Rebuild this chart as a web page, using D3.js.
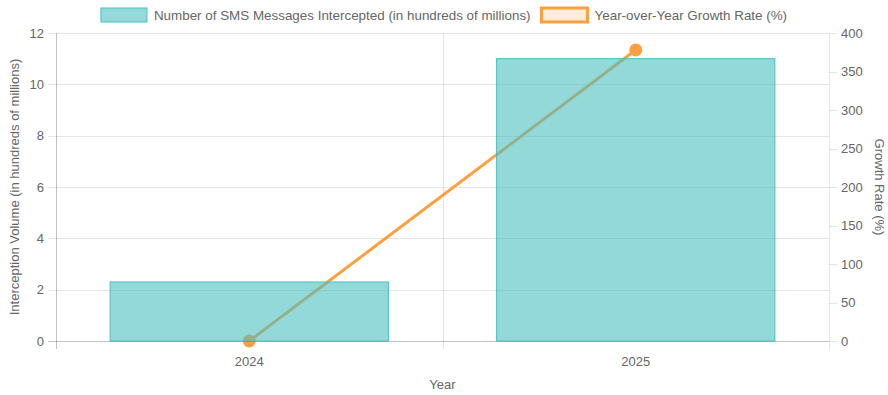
<!DOCTYPE html>
<html lang="en">
<head>
  <meta charset="UTF-8" />
  <title>SMS Interception</title>
  <script src="https://d3js.org/d3.v7.min.js"></script>
  <style>
    body {
      margin: 0;
      background: #fff;
      font-family: 'Liberation Sans', Arial, sans-serif;
    }
    svg text {
      fill: #666;
      font-size: 13px;
    }
    svg .legend text {
      font-size: 13.4px;
    }
  </style>
</head>
<body>
  <svg id="chart" width="888" height="395"></svg>
  <script>
    // Chart data
    const years = ["2024", "2025"];
    const smsVolume = [2.3, 11];      // hundreds of millions
    const growthRate = [0, 378];      // percent
    const leftTicks = [0, 2, 4, 6, 8, 10, 12];
    const rightTicks = [0, 50, 100, 150, 200, 250, 300, 350, 400];

    const seriesLabels = [
      "Number of SMS Messages Intercepted (in hundreds of millions)",
      "Year-over-Year Growth Rate (%)"
    ];

    const barFill = "rgba(75, 192, 192, 0.6)";
    const barStroke = "rgb(75, 192, 192)";
    const lineColor = "rgb(255, 159, 64)";
    const gridColor = "rgba(0, 0, 0, 0.1)";

    const margin = { top: 33, right: 59, bottom: 54, left: 56 };
    const width = 888, height = 395;
    const svg = d3.select("#chart");

    const x = d3.scaleBand()
      .domain(years)
      .range([margin.left, width - margin.right]);

    const yLeft = d3.scaleLinear()
      .domain([0, 12])
      .range([height - margin.bottom, margin.top]);

    const yRight = d3.scaleLinear()
      .domain([0, 400])
      .range([height - margin.bottom, margin.top]);

    const bottom = height - margin.bottom;
    const right = width - margin.right;

    // Horizontal grid lines (left axis)
    svg.append("g")
      .selectAll("line")
      .data(leftTicks)
      .enter()
      .append("line")
      .attr("x1", margin.left - 8)
      .attr("x2", right)
      .attr("y1", d => Math.round(yLeft(d)) + 0.5)
      .attr("y2", d => Math.round(yLeft(d)) + 0.5)
      .attr("stroke", gridColor);

    // Vertical grid lines at band boundaries
    const bounds = [margin.left, x("2025"), right];
    svg.append("g")
      .selectAll("line")
      .data(bounds)
      .enter()
      .append("line")
      .attr("x1", d => Math.round(d) + 0.5)
      .attr("x2", d => Math.round(d) + 0.5)
      .attr("y1", margin.top)
      .attr("y2", bottom + 8)
      .attr("stroke", gridColor);

    // Right axis tick marks
    svg.append("g")
      .selectAll("line")
      .data(rightTicks)
      .enter()
      .append("line")
      .attr("x1", right)
      .attr("x2", right + 8)
      .attr("y1", d => Math.round(yRight(d)) + 0.5)
      .attr("y2", d => Math.round(yRight(d)) + 0.5)
      .attr("stroke", gridColor);

    // Tick labels
    svg.append("g")
      .selectAll("text")
      .data(leftTicks)
      .enter()
      .append("text")
      .attr("x", margin.left - 12)
      .attr("y", d => yLeft(d))
      .attr("dy", "0.35em")
      .attr("text-anchor", "end")
      .text(d => d);

    svg.append("g")
      .selectAll("text")
      .data(rightTicks)
      .enter()
      .append("text")
      .attr("x", right + 12)
      .attr("y", d => yRight(d))
      .attr("dy", "0.35em")
      .text(d => d);

    svg.append("g")
      .selectAll("text")
      .data(years)
      .enter()
      .append("text")
      .attr("x", d => x(d) + x.bandwidth() / 2)
      .attr("y", bottom + 20)
      .attr("dy", "0.35em")
      .attr("text-anchor", "middle")
      .text(d => d);

    // Axis titles
    svg.append("text")
      .attr("transform", `translate(14, ${(margin.top + bottom) / 2}) rotate(-90)`)
      .attr("dy", "0.35em")
      .attr("text-anchor", "middle")
      .text("Interception Volume (in hundreds of millions)");

    svg.append("text")
      .attr("transform", `translate(880, ${(margin.top + bottom) / 2}) rotate(90)`)
      .attr("dy", "0.35em")
      .attr("text-anchor", "middle")
      .text("Growth Rate (%)");

    svg.append("text")
      .attr("x", (margin.left + right) / 2)
      .attr("y", 384)
      .attr("dy", "0.35em")
      .attr("text-anchor", "middle")
      .text("Year");

    // Growth line (drawn under the bars)
    const line = d3.line()
      .x((d, i) => x(years[i]) + x.bandwidth() / 2)
      .y(d => yRight(d));

    svg.append("path")
      .datum(growthRate)
      .attr("d", line)
      .attr("fill", "none")
      .attr("stroke", lineColor)
      .attr("stroke-width", 3);

    svg.append("g")
      .selectAll("circle")
      .data(growthRate)
      .enter()
      .append("circle")
      .attr("cx", (d, i) => x(years[i]) + x.bandwidth() / 2)
      .attr("cy", d => yRight(d))
      .attr("r", 6.5)
      .attr("fill", lineColor);

    // Bars
    const barW = x.bandwidth() * 0.72;
    svg.append("g")
      .selectAll("rect")
      .data(smsVolume)
      .enter()
      .append("rect")
      .attr("x", (d, i) => x(years[i]) + (x.bandwidth() - barW) / 2)
      .attr("y", d => yLeft(d))
      .attr("width", barW)
      .attr("height", d => bottom - yLeft(d))
      .attr("fill", barFill)
      .attr("stroke", barStroke)
      .attr("stroke-width", 1);

    // Left axis line and bottom axis line on top
    svg.append("line")
      .attr("x1", margin.left + 0.5).attr("x2", margin.left + 0.5)
      .attr("y1", margin.top).attr("y2", bottom + 8)
      .attr("stroke", "rgba(0,0,0,0.15)");
    svg.append("line")
      .attr("x1", margin.left - 8).attr("x2", right)
      .attr("y1", bottom + 0.5).attr("y2", bottom + 0.5)
      .attr("stroke", "rgba(0,0,0,0.15)");

    // Legend
    const legend = svg.append("g").attr("class", "legend");
    const boxW = 46, boxH = 14, gap = 7, itemGap = 11;
    let lx = 0;
    const legendStyles = [
      { fill: barFill, stroke: barStroke, sw: 1 },
      { fill: "rgba(255, 159, 64, 0.2)", stroke: lineColor, sw: 3 }
    ];
    seriesLabels.forEach((label, i) => {
      const item = legend.append("g").attr("transform", `translate(${lx},0)`);
      item.append("rect")
        .attr("x", 0).attr("y", 8)
        .attr("width", boxW).attr("height", boxH)
        .attr("fill", legendStyles[i].fill)
        .attr("stroke", legendStyles[i].stroke)
        .attr("stroke-width", legendStyles[i].sw);
      const t = item.append("text")
        .attr("x", boxW + gap)
        .attr("y", 15)
        .attr("dy", "0.35em")
        .text(label);
      lx += boxW + gap + t.node().getComputedTextLength() + itemGap;
    });
    legend.attr("transform", `translate(${(width - (lx - itemGap)) / 2},0)`);
  </script>
</body>
</html>
